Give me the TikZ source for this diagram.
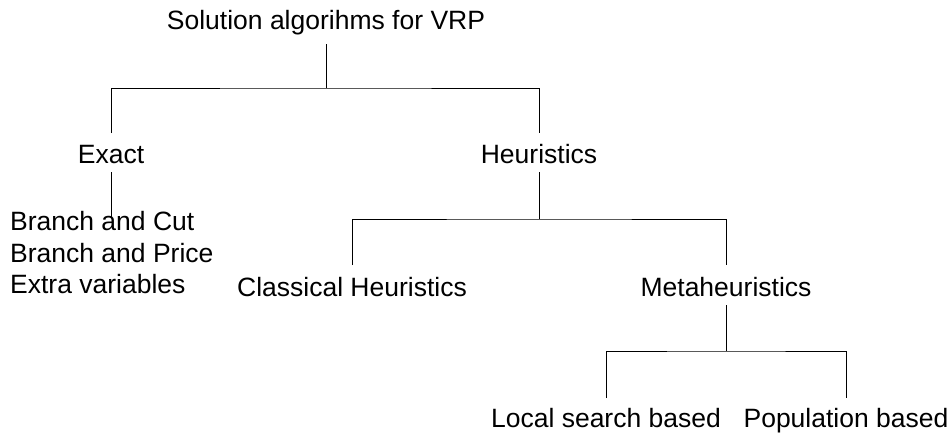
\documentclass[tikz,border=0pt]{standalone}
\usepackage{fontspec}
\setmainfont{Liberation Sans}
\begin{document}
\begin{tikzpicture}[x=1pt,y=-1pt,
  label/.style={font=\fontsize{26.5}{31}\selectfont, inner sep=0pt, anchor=base},
  item/.style={label, anchor=base west},
  link/.style={line width=1pt, black}]
\useasboundingbox (0,0) rectangle (951,434);

% tree labels
\node[label] (root)    at (326,29)  {Solution algorihms for VRP};
\node[label] (exact)   at (111,163) {Exact};
\node[label] (heur)    at (539,163) {Heuristics};
\node[label] (classic) at (352,296) {Classical Heuristics};
\node[label] (meta)    at (726,296) {Metaheuristics};
\node[label] (local)   at (606,427) {Local search based};
\node[label] (pop)     at (846,427) {Population based};

% exact methods
\node[item] (bc) at (10,230.5) {Branch and Cut};
\node[item] (bp) at (10,262)   {Branch and Price};
\node[item] (ev) at (10,293.5) {Extra variables};

% branching points
\coordinate (rootbar) at (326,88);
\coordinate (heurbar) at (539,219);
\coordinate (metabar) at (726,351);

% connectors
\draw[link] ([yshift=-15pt]root.base) -- (rootbar);
\draw[link] ([yshift=30pt]exact.base) |- (rootbar) -| ([yshift=30pt]heur.base);

\draw[link] ([yshift=-9pt]exact.base) -- ([yshift=-54pt]exact.base);

\draw[link] ([yshift=-9pt]heur.base) -- (heurbar);
\draw[link] ([yshift=31pt]classic.base) |- (heurbar) -| ([yshift=31pt]meta.base);

\draw[link] ([yshift=-9pt]meta.base) -- (metabar);
\draw[link] ([yshift=29pt]local.base) |- (metabar) -| ([yshift=29pt]pop.base);
\end{tikzpicture}
\end{document}
